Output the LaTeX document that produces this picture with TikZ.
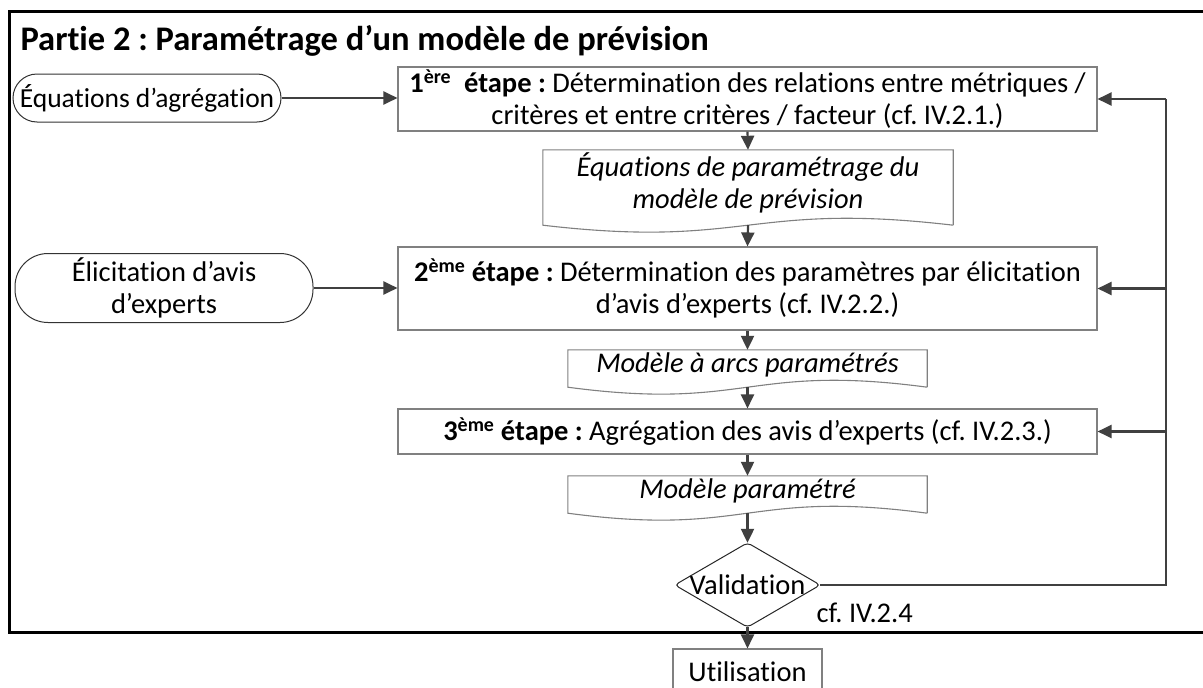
\documentclass[tikz,border=0pt]{standalone}
\usepackage{fontspec}
\setmainfont{Carlito}[Ligatures={NoCommon}]
\usetikzlibrary{arrows.meta,calc}
\definecolor{arr}{HTML}{404040}
\definecolor{bx}{HTML}{808080}
\newcommand\mydoc[3]{%
  \coordinate (#1b) at ($(#1.south)+(0,#3)$);
  \draw[bx,line width=1.1pt] ($(#1.south east)+(0,#3)$) -- (#1.north east) -- (#1.north west) -- ($(#1.south west)+(0,#3)$)
    .. controls +(#2,24) and +(-#2,-24) .. ($(#1.south east)+(0,#3)$);}
\frenchspacing
\begin{document}
\begin{tikzpicture}[x=1pt,y=-1pt,
  txt/.style={font=\fontsize{28.5}{32}\selectfont},
  stepbox/.style={draw=bx,line width=1.1pt,rectangle,inner sep=0pt,align=center,txt,minimum width=699pt},
  docbox/.style={rectangle,inner sep=0pt,align=center,txt},
  term/.style={draw=black!80,line width=1pt,rectangle,inner sep=0pt,align=center,txt},
  arrow/.style={draw=arr,line width=2.2pt,-{Triangle[length=14pt,width=13pt]}},
  flow/.style={draw=arr,line width=2.2pt}]
\clip (0,0) rectangle (1203,688);
\fill[white] (0,0) rectangle (1203,688);
% frame
\draw[line width=3pt] (1215,11) -- (9,11) -- (9,632) -- (1215,632);
\node[anchor=base west,font=\fontsize{34.5}{40}\selectfont\bfseries] (title) at (17,50) {Partie 2 : Paramétrage d’un modèle de prévision};
% steps
\node[stepbox,minimum height=64pt] (s1) at (747.5,99) {\textbf{1\textsuperscript{ère}\ \ étape :} Détermination des relations entre métriques /\\critères et entre critères / facteur (cf. IV.2.1.)};
\node[stepbox,minimum height=83pt] (s2) at (747.5,288.5) {\textbf{2\textsuperscript{ème} étape :} Détermination des paramètres par élicitation\\d’avis d’experts (cf. IV.2.2.)};
\node[stepbox,minimum height=45pt] (s3) at (747.5,431.5) {\textbf{3\textsuperscript{ème} étape :} Agrégation des avis d’experts (cf. IV.2.3.)};
% documents
\node[docbox,minimum width=410pt,minimum height=66pt] (d1) at (748,183) {\itshape Équations de paramétrage du\\\itshape modèle de prévision};
\mydoc{d1}{205}{9}
\node[docbox,minimum width=359pt,minimum height=30pt] (d2) at (747.5,365) {\itshape Modèle à arcs paramétrés};
\mydoc{d2}{180}{7}
\node[docbox,minimum width=359pt,minimum height=30pt] (d3) at (747.5,491) {\itshape Modèle paramétré};
\mydoc{d3}{180}{7}
% terminators
\node[term,minimum width=268pt,minimum height=48pt,rounded corners=24pt,font=\fontsize{27.5}{32}\selectfont] (t1) at (147,98) {Équations d’agrégation};
\node[term,minimum width=298pt,minimum height=69pt,rounded corners=33pt] (t2) at (164,288) {Élicitation d’avis\\d’experts};
% decision
\node[txt,inner sep=0pt,minimum width=145pt,minimum height=84pt] (v) at (747.5,585) {Validation};
\draw[black!85,line width=1pt,rounded corners=4pt] (v.north) -- (v.east) -- (v.south) -- (v.west) -- cycle;
\node[txt,anchor=base west] (cf) at (813,622) {cf. IV.2.4};
\node[draw=bx,line width=1.1pt,rectangle,inner sep=0pt,txt,minimum width=149pt,minimum height=46pt] (u) at (747.5,672) {Utilisation};
% arrows
\draw[arrow] (t1.east) -- (t1.east -| s1.west);
\draw[arrow] (t2.east) -- (t2.east -| s2.west);
\draw[arrow] (s1.south) -- (d1.north);
\draw[arrow] (d1b) -- (s2.north);
\draw[arrow] (s2.south) -- (d2.north);
\draw[arrow] (d2b) -- (s3.north);
\draw[arrow] (s3.south) -- (d3.north);
\draw[arrow] (d3b) -- (v.north);
\draw[arrow] (v.south) -- (u.north);
\coordinate (fb) at (1166,585);
\coordinate (fbtop) at (1166,99);
\draw[flow] (v.east) -- (fb) -- (fbtop);
\draw[arrow] (fbtop) -- (s1.east);
\draw[arrow] (fb |- s2.east) -- (s2.east);
\draw[arrow] (fb |- s3.east) -- (s3.east);
\end{tikzpicture}
\end{document}
